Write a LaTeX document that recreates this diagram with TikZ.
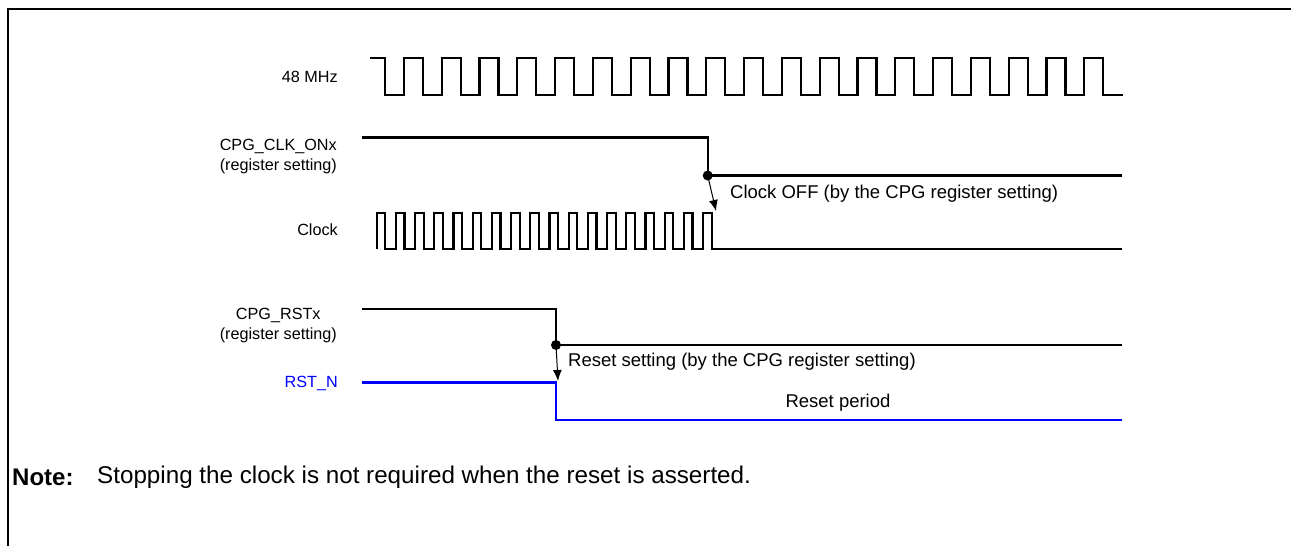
\documentclass[tikz,border=0pt]{standalone}
\usepackage{fontspec}
\setmainfont{Liberation Sans}
\usetikzlibrary{arrows.meta,positioning}

\begin{document}
\begin{tikzpicture}[
  x=1pt, y=-1pt,
  sig/.style={line width=2.2pt, line join=miter},
  lbl/.style={font=\fontsize{16.2}{20}\selectfont, inner sep=0pt},
  ann/.style={font=\fontsize{18.5}{22}\selectfont, inner sep=0pt},
  arr/.style={-{Latex[length=11pt, width=9pt]}, line width=1pt},
  dot/.style={circle, fill, inner sep=0pt, minimum size=10pt}
]
\useasboundingbox (0,0) rectangle (1291,546);
\draw[line width=2.8pt] (8,546) -- (8,9) -- (1291,9);

\node[lbl, anchor=east] (l48) at (338,77) {48 MHz};
\node[lbl, anchor=east, align=center] (lon) at (337,157) {CPG\_CLK\_ONx\\(register setting)};
\node[lbl, anchor=east] (lclk) at (338,230) {Clock};
\node[lbl, anchor=east, align=center] (lrst) at (337,326) {CPG\_RSTx\\(register setting)};
\node[lbl, anchor=east, text=blue] (lrstn) at (338,383) {RST\_N};

\draw[sig] (370,58) -- (385,58)
  \foreach \k in {0,...,18} { -- ++(0,37) -- ++(18.9,0) -- ++(0,-37) -- ++(18.9,0) }
  -- ++(0,37) -- (1123,95);

\draw[sig] (362,137.5) -- (707.7,137.5) -- (707.7,175.5) -- (1122,175.5);
\node[dot] (offdot) at (707.7,175.5) {};

\draw[sig] (376.7,249)
  \foreach \k in {0,...,17} { -- ++(0,-36) -- ++(8.6,0) -- ++(0,36) -- ++(10.6,0) }
  -- (1122,249);
\coordinate (offtip) at (716,211);

\draw[sig] (362,309) -- (556,309) -- (556,345) -- (1122,345);
\node[dot] (rstdot) at (556,345) {};

\draw[sig, blue] (362,382.5) -- (556,382.5) -- (556,420) -- (1122,420);
\coordinate (rsttip) at (558,381);

\draw[arr] (offdot.center) -- (offtip);
\draw[arr] (rstdot.center) -- (rsttip);

\node[ann, anchor=west] (off) at (730,194) {Clock OFF (by the CPG register setting)};
\node[ann, anchor=west] (rset) at (568,362) {Reset setting (by the CPG register setting)};
\node[ann] (rper) at (838,403) {Reset period};

\node[ann, anchor=west, font=\fontsize{24}{28}\selectfont\bfseries] (note) at (12,477) {Note:};
\node[ann, anchor=west, font=\fontsize{24.2}{28}\selectfont] (notetxt) at (97,477) {Stopping the clock is not required when the reset is asserted.};
\end{tikzpicture}
\end{document}
